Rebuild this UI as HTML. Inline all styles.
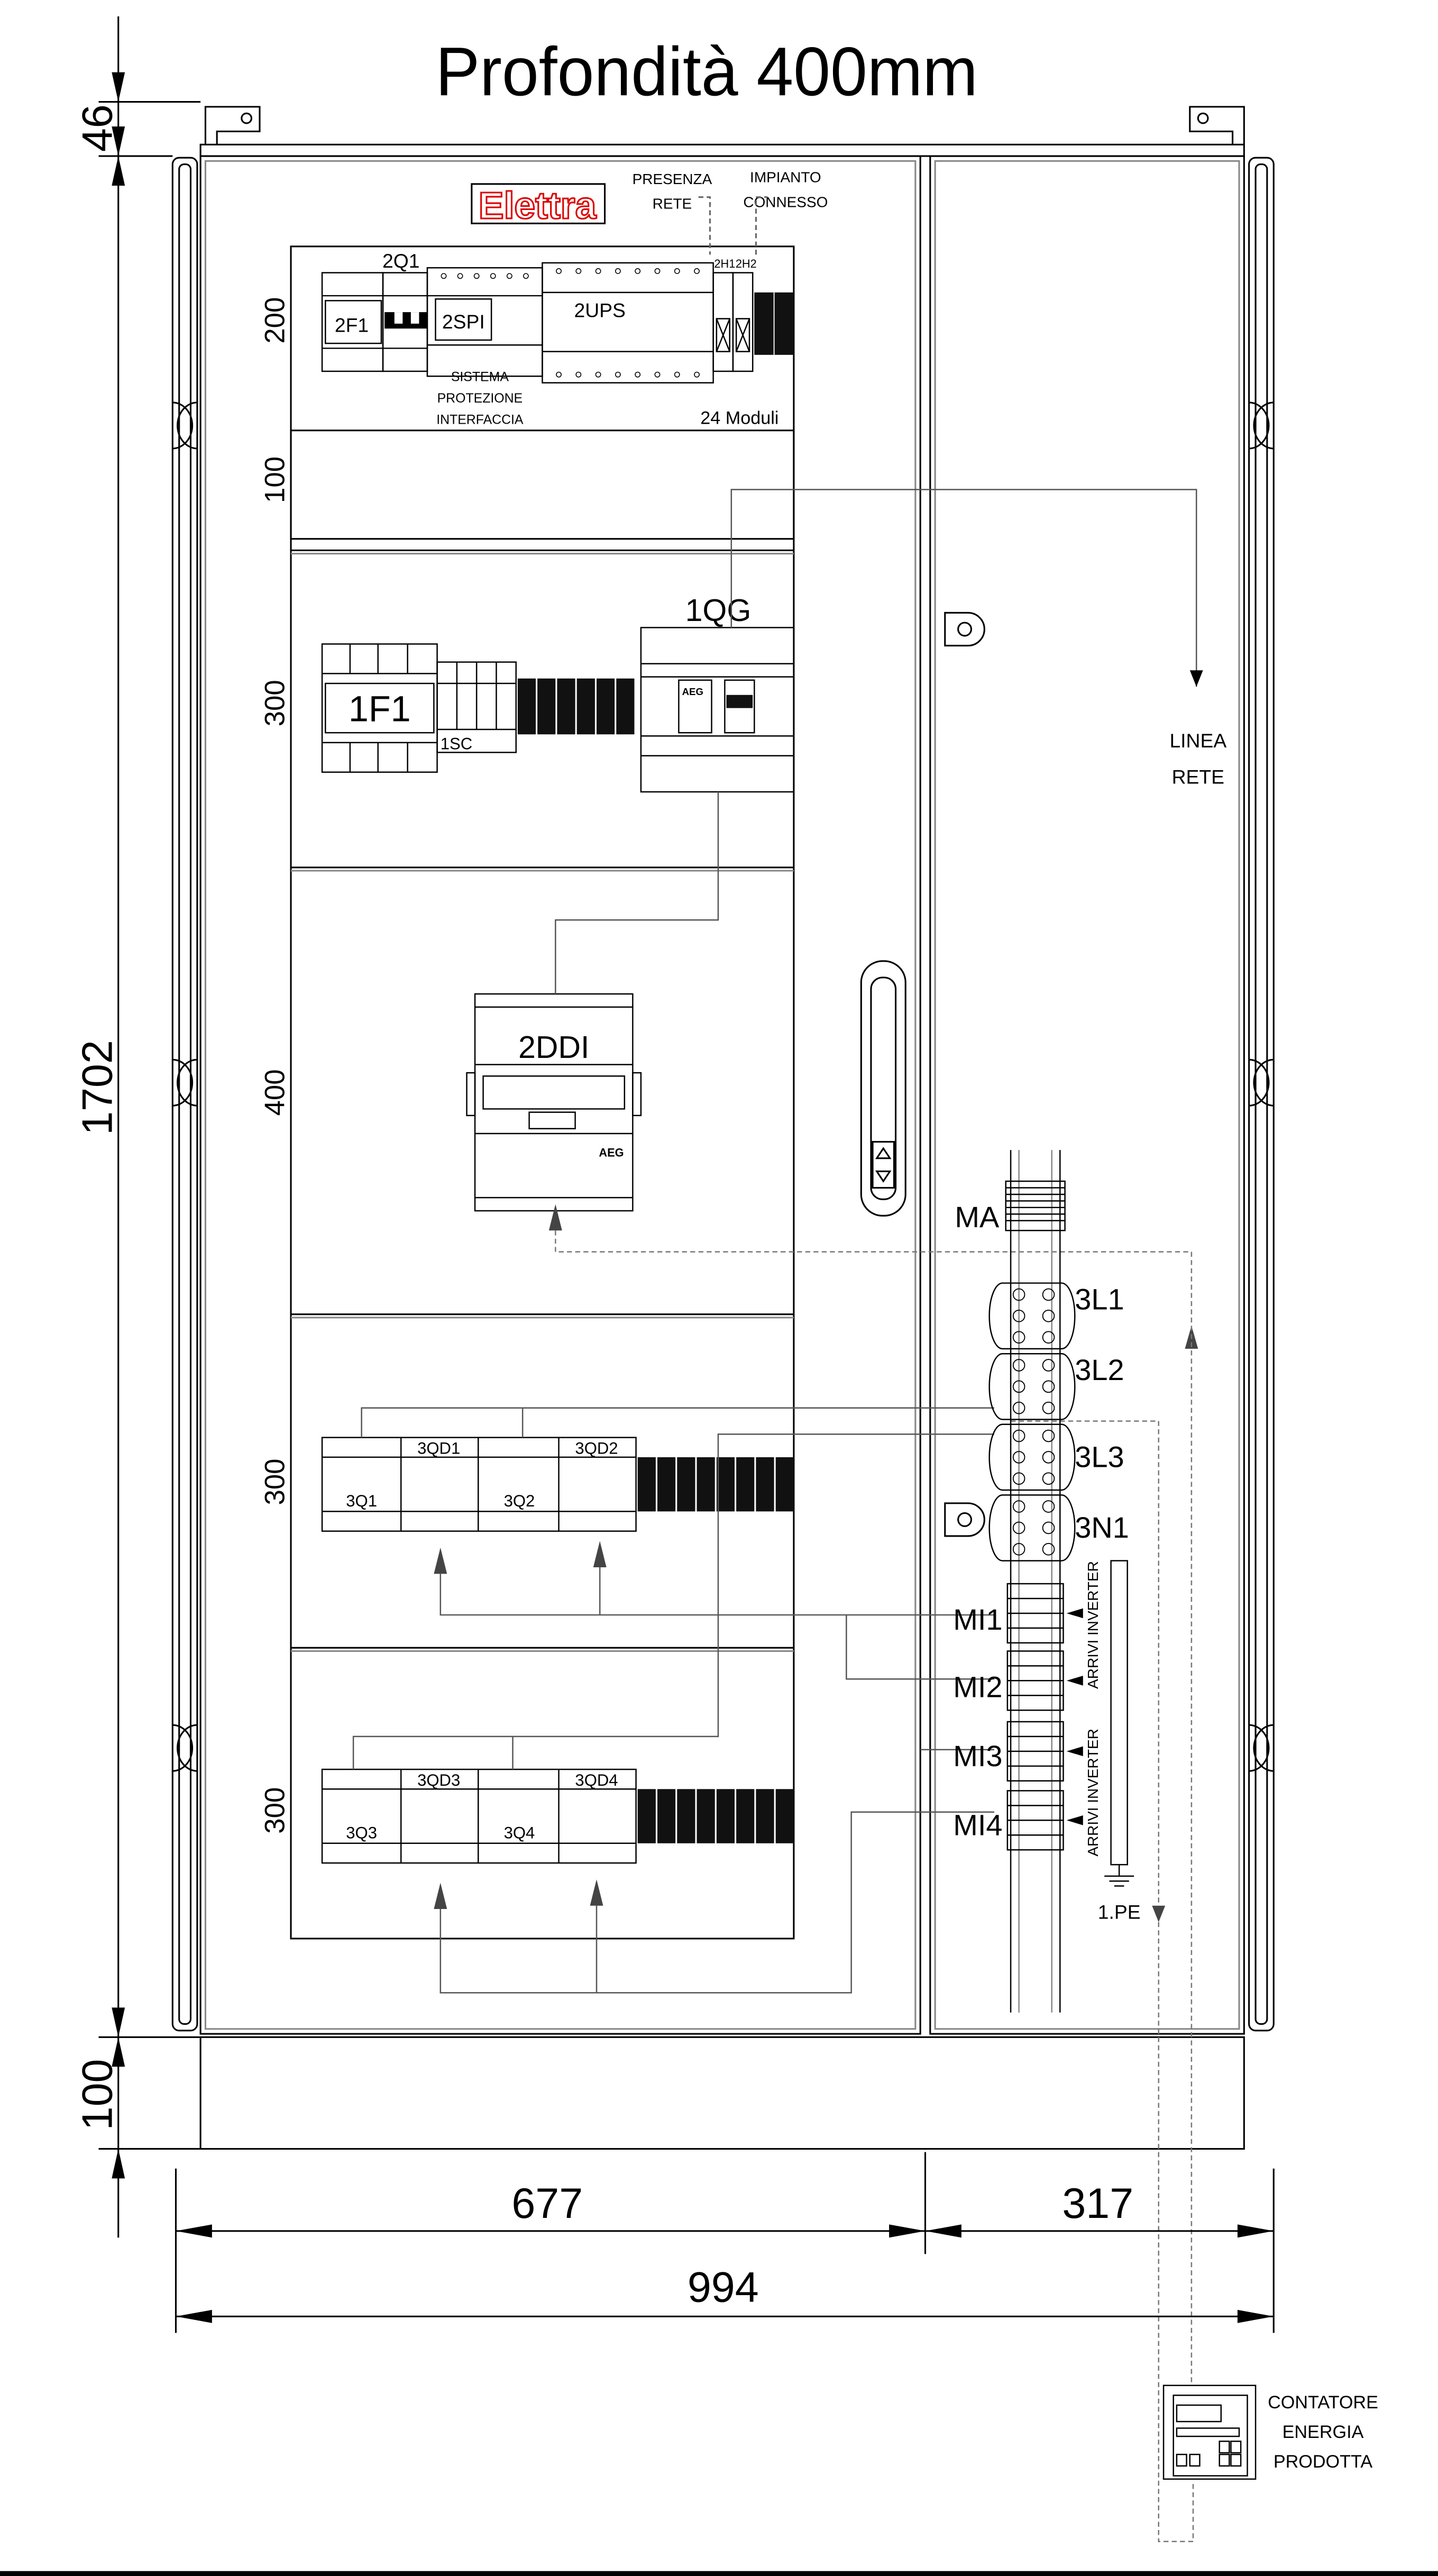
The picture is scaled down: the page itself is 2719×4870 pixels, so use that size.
<!DOCTYPE html>
<html><head><meta charset="utf-8"><style>
html,body{margin:0;padding:0;background:#fff}
svg{display:block}
text{font-family:"Liberation Sans",sans-serif;fill:#000}
</style></head><body>
<svg width="2719" height="4870" viewBox="0 0 875 1568" preserveAspectRatio="none" xmlns="http://www.w3.org/2000/svg">
<rect width="875" height="1568" fill="#fff"/>
<!-- title -->
<text x="265" y="58" font-size="42" textLength="330" lengthAdjust="spacingAndGlyphs">Profondità 400mm</text>

<!-- left dimension -->
<g stroke="#000" stroke-width="1" fill="none">
<line x1="72" y1="10" x2="72" y2="1362"/>
<line x1="60" y1="62" x2="122" y2="62"/>
<line x1="60" y1="95" x2="105" y2="95"/>
<line x1="60" y1="1240" x2="122" y2="1240"/>
<line x1="60" y1="1308" x2="122" y2="1308"/>
</g>
<path d="M72,62 l-4,-18 h8z M72,95 l-4,18 h8z M72,1240 l-4,-18 h8z M72,1240 l-4,18 h8z M72,1308 l-4,18 h8z M72,95 l-4,-18 h8z" fill="#000"/>
<text transform="translate(68,78) rotate(-90)" font-size="26" text-anchor="middle">46</text>
<text transform="translate(68,662) rotate(-90)" font-size="26" text-anchor="middle">1702</text>
<text transform="translate(68,1275) rotate(-90)" font-size="26" text-anchor="middle">100</text>

<!-- cabinet -->
<g stroke="#000" stroke-width="1" fill="none">
<rect x="122" y="88" width="635" height="7"/>
<rect x="105" y="96" width="15" height="1140" rx="4"/>
<rect x="109" y="100" width="7" height="1132" rx="3"/>
<rect x="760" y="96" width="15" height="1140" rx="4"/>
<rect x="764" y="100" width="7" height="1132" rx="3"/>
<rect x="122" y="95" width="438" height="1143"/>
<rect x="125" y="98" width="432" height="1137" stroke="#888"/>
<rect x="566" y="95" width="191" height="1143"/>
<rect x="569" y="98" width="185" height="1137" stroke="#888"/>
<rect x="122" y="1240" width="635" height="68"/>
<path d="M125,88 V65 H158 V80 H132 V88"/>
<circle cx="150" cy="72" r="3"/>
<path d="M757,88 V65 H724 V80 H750 V88"/>
<circle cx="732" cy="72" r="3"/>
<path d="M120,245 a12,14 0 0 0 0,28"/><path d="M105,245 a12,14 0 0 1 0,28"/>
<path d="M120,645 a12,14 0 0 0 0,28"/><path d="M105,645 a12,14 0 0 1 0,28"/>
<path d="M120,1050 a12,14 0 0 0 0,28"/><path d="M105,1050 a12,14 0 0 1 0,28"/>
<path d="M760,245 a12,14 0 0 1 0,28"/><path d="M775,245 a12,14 0 0 0 0,28"/>
<path d="M760,645 a12,14 0 0 1 0,28"/><path d="M775,645 a12,14 0 0 0 0,28"/>
<path d="M760,1050 a12,14 0 0 1 0,28"/><path d="M775,1050 a12,14 0 0 0 0,28"/>
<rect x="177" y="150" width="306" height="1030"/>
<rect x="177" y="262" width="306" height="66"/>
<line x1="177" y1="335" x2="483" y2="335"/><line x1="177" y1="337" x2="483" y2="337" stroke="#888"/>
<line x1="177" y1="528" x2="483" y2="528"/><line x1="177" y1="530" x2="483" y2="530" stroke="#888"/>
<line x1="177" y1="800" x2="483" y2="800"/><line x1="177" y1="802" x2="483" y2="802" stroke="#888"/>
<line x1="177" y1="1003" x2="483" y2="1003"/><line x1="177" y1="1005" x2="483" y2="1005" stroke="#888"/>
<rect x="524" y="585" width="27" height="155" rx="13"/>
<rect x="530" y="595" width="15" height="135" rx="7"/>
<rect x="531" y="695" width="13" height="28"/>
<path d="M537.5,699 l-4,6 h8z M537.5,719 l-4,-6 h8z"/>
<path d="M575,373 h14 a10,10 0 0 1 0,20 h-14z"/><circle cx="587" cy="383" r="4"/>
<path d="M575,915 h14 a10,10 0 0 1 0,20 h-14z"/><circle cx="587" cy="925" r="4"/>
</g>

<g font-size="17">
<text transform="translate(173,195) rotate(-90)" text-anchor="middle">200</text>
<text transform="translate(173,292) rotate(-90)" text-anchor="middle">100</text>
<text transform="translate(173,428) rotate(-90)" text-anchor="middle">300</text>
<text transform="translate(173,665) rotate(-90)" text-anchor="middle">400</text>
<text transform="translate(173,902) rotate(-90)" text-anchor="middle">300</text>
<text transform="translate(173,1102) rotate(-90)" text-anchor="middle">300</text>
</g>

<rect x="287" y="112" width="81" height="24" fill="none" stroke="#000"/>
<text x="327" y="133" font-size="23" font-weight="bold" text-anchor="middle" style="fill:#fff;stroke:#d00;stroke-width:1">Elettra</text>
<text x="409" y="112" font-size="9" text-anchor="middle">PRESENZA</text>
<text x="409" y="127" font-size="9" text-anchor="middle">RETE</text>
<text x="478" y="111" font-size="9" text-anchor="middle">IMPIANTO</text>
<text x="478" y="126" font-size="9" text-anchor="middle">CONNESSO</text>
<path d="M425,120 h7 V155 M460,155 V120 h7" fill="none" stroke="#666" stroke-dasharray="3,2"/>

<g stroke="#000" stroke-width="0.8" fill="none">
<rect x="196" y="166" width="37" height="60"/>
<line x1="196" y1="180" x2="233" y2="180"/><line x1="196" y1="212" x2="233" y2="212"/>
<rect x="198" y="183" width="34" height="26"/>
<rect x="233" y="166" width="27" height="60"/>
<line x1="233" y1="180" x2="260" y2="180"/><line x1="233" y1="212" x2="260" y2="212"/>
<rect x="260" y="163" width="70" height="66"/>
<line x1="260" y1="180" x2="330" y2="180"/><line x1="260" y1="210" x2="330" y2="210"/>
<rect x="265" y="182" width="34" height="25"/>
<rect x="330" y="160" width="104" height="73"/>
<line x1="330" y1="178" x2="434" y2="178"/><line x1="330" y1="214" x2="434" y2="214"/>
<rect x="434" y="166" width="12" height="60"/><rect x="446" y="166" width="12" height="60"/>
<path d="M436,194 h8 v20 h-8z M436,194 l8,20 M444,194 l-8,20 M448,194 h8 v20 h-8z M448,194 l8,20 M456,194 l-8,20"/>
</g>
<rect x="234" y="190" width="26" height="10" fill="#000"/>
<rect x="240" y="190" width="5" height="7" fill="#fff"/><rect x="250" y="190" width="5" height="7" fill="#fff"/>
<rect x="459" y="178" width="24" height="38" fill="#111"/>
<line x1="471" y1="178" x2="471" y2="216" stroke="#fff" stroke-width="0.6"/>
<g font-size="12">
<text x="214" y="202" text-anchor="middle">2F1</text>
<text x="282" y="200" text-anchor="middle">2SPI</text>
<text x="365" y="193" text-anchor="middle">2UPS</text>
<text x="244" y="163" text-anchor="middle">2Q1</text>
</g>
<text x="441" y="163" font-size="7" text-anchor="middle">2H1</text>
<text x="454" y="163" font-size="7" text-anchor="middle">2H2</text>
<text x="292" y="232" font-size="8" text-anchor="middle">SISTEMA</text>
<text x="292" y="245" font-size="8" text-anchor="middle">PROTEZIONE</text>
<text x="292" y="258" font-size="8" text-anchor="middle">INTERFACCIA</text>
<text x="450" y="258" font-size="11" text-anchor="middle">24 Moduli</text>
<g fill="none" stroke="#000" stroke-width="0.5">
<circle cx="270" cy="168" r="1.5"/><circle cx="280" cy="168" r="1.5"/><circle cx="290" cy="168" r="1.5"/><circle cx="300" cy="168" r="1.5"/><circle cx="310" cy="168" r="1.5"/><circle cx="320" cy="168" r="1.5"/>
<circle cx="340" cy="165" r="1.5"/><circle cx="352" cy="165" r="1.5"/><circle cx="364" cy="165" r="1.5"/><circle cx="376" cy="165" r="1.5"/><circle cx="388" cy="165" r="1.5"/><circle cx="400" cy="165" r="1.5"/><circle cx="412" cy="165" r="1.5"/><circle cx="424" cy="165" r="1.5"/>
<circle cx="340" cy="228" r="1.5"/><circle cx="352" cy="228" r="1.5"/><circle cx="364" cy="228" r="1.5"/><circle cx="376" cy="228" r="1.5"/><circle cx="388" cy="228" r="1.5"/><circle cx="400" cy="228" r="1.5"/><circle cx="412" cy="228" r="1.5"/><circle cx="424" cy="228" r="1.5"/>
</g>

<g stroke="#000" stroke-width="0.8" fill="none">
<rect x="196" y="392" width="70" height="78"/>
<line x1="196" y1="410" x2="266" y2="410"/><line x1="196" y1="452" x2="266" y2="452"/>
<rect x="198" y="416" width="66" height="30"/>
<line x1="213" y1="392" x2="213" y2="410"/><line x1="230" y1="392" x2="230" y2="410"/><line x1="248" y1="392" x2="248" y2="410"/>
<line x1="213" y1="452" x2="213" y2="470"/><line x1="230" y1="452" x2="230" y2="470"/><line x1="248" y1="452" x2="248" y2="470"/>
<rect x="266" y="403" width="48" height="55"/>
<line x1="266" y1="416" x2="314" y2="416"/><line x1="266" y1="444" x2="314" y2="444"/>
<line x1="278" y1="403" x2="278" y2="444"/><line x1="290" y1="403" x2="290" y2="444"/><line x1="302" y1="403" x2="302" y2="444"/>
<rect x="390" y="382" width="93" height="100"/>
<line x1="390" y1="404" x2="483" y2="404"/><line x1="390" y1="412" x2="483" y2="412"/><line x1="390" y1="448" x2="483" y2="448"/><line x1="390" y1="460" x2="483" y2="460"/>
<rect x="413" y="414" width="20" height="32"/>
<rect x="441" y="414" width="18" height="32"/>
</g>
<g fill="#111">
<rect x="315" y="413" width="11" height="34"/><rect x="327" y="413" width="11" height="34"/><rect x="339" y="413" width="11" height="34"/><rect x="351" y="413" width="11" height="34"/><rect x="363" y="413" width="11" height="34"/><rect x="375" y="413" width="11" height="34"/>
<rect x="442" y="423" width="16" height="8"/>
</g>
<text x="231" y="439" font-size="22" text-anchor="middle">1F1</text>
<text x="268" y="456" font-size="10">1SC</text>
<text x="437" y="378" font-size="19" text-anchor="middle">1QG</text>
<text x="415" y="423" font-size="6" font-weight="bold">AEG</text>

<g stroke="#000" stroke-width="0.8" fill="none">
<rect x="289" y="605" width="96" height="132"/>
<line x1="289" y1="613" x2="385" y2="613"/><line x1="289" y1="648" x2="385" y2="648"/><line x1="289" y1="690" x2="385" y2="690"/><line x1="289" y1="729" x2="385" y2="729"/>
<rect x="294" y="655" width="86" height="20"/>
<rect x="322" y="677" width="28" height="10"/>
<rect x="284" y="653" width="5" height="26"/><rect x="385" y="653" width="5" height="26"/>
</g>
<text x="337" y="644" font-size="19" text-anchor="middle">2DDI</text>
<text x="372" y="704" font-size="7" font-weight="bold" text-anchor="middle">AEG</text>

<g stroke="#000" stroke-width="0.8" fill="none">
<rect x="196" y="875" width="191" height="57"/>
<line x1="196" y1="887" x2="387" y2="887"/><line x1="196" y1="920" x2="387" y2="920"/>
<line x1="244" y1="875" x2="244" y2="932"/><line x1="291" y1="875" x2="291" y2="932"/><line x1="340" y1="875" x2="340" y2="932"/>
<rect x="196" y="1077" width="191" height="57"/>
<line x1="196" y1="1089" x2="387" y2="1089"/><line x1="196" y1="1122" x2="387" y2="1122"/>
<line x1="244" y1="1077" x2="244" y2="1134"/><line x1="291" y1="1077" x2="291" y2="1134"/><line x1="340" y1="1077" x2="340" y2="1134"/>
</g>
<g fill="#111">
<rect x="388" y="887" width="11" height="33"/><rect x="400" y="887" width="11" height="33"/><rect x="412" y="887" width="11" height="33"/><rect x="424" y="887" width="11" height="33"/><rect x="436" y="887" width="11" height="33"/><rect x="448" y="887" width="11" height="33"/><rect x="460" y="887" width="11" height="33"/><rect x="472" y="887" width="11" height="33"/>
<rect x="388" y="1089" width="11" height="33"/><rect x="400" y="1089" width="11" height="33"/><rect x="412" y="1089" width="11" height="33"/><rect x="424" y="1089" width="11" height="33"/><rect x="436" y="1089" width="11" height="33"/><rect x="448" y="1089" width="11" height="33"/><rect x="460" y="1089" width="11" height="33"/><rect x="472" y="1089" width="11" height="33"/>
</g>
<g font-size="10" text-anchor="middle">
<text x="220" y="917">3Q1</text><text x="267" y="885">3QD1</text><text x="316" y="917">3Q2</text><text x="363" y="885">3QD2</text>
<text x="220" y="1119">3Q3</text><text x="267" y="1087">3QD3</text><text x="316" y="1119">3Q4</text><text x="363" y="1087">3QD4</text>
</g>

<g fill="#444">
<path d="M338,733 l-4,16 h8z"/>
<path d="M268,942 l-4,16 h8z"/><path d="M365,938 l-4,16 h8z"/>
<path d="M268,1146 l-4,16 h8z"/><path d="M363,1144 l-4,16 h8z"/>
<path d="M725,807 l-4,14 h8z"/>
</g>

<g stroke="#555" stroke-width="0.8" fill="none">
<path d="M445,382 V298 H728 V418"/>
<path d="M437,482 V560 H338 V605"/>
<path d="M220,875 V857 H605"/><path d="M318,857 V875"/>
<path d="M605,873 H437 V1057 H215 V1077"/><path d="M312,1057 V1077"/>
<path d="M268,958 V983 H605"/><path d="M365,954 V983"/>
<path d="M515,983 V1022 H605"/>
<path d="M268,1162 V1213 H518 V1103 H605"/><path d="M363,1160 V1213"/>
<path d="M560,1065 H605"/>
</g>
<path d="M728,418 l-4,-10 h8z" fill="#000"/>
<text x="729" y="455" font-size="12" text-anchor="middle">LINEA</text>
<text x="729" y="477" font-size="12" text-anchor="middle">RETE</text>
<g stroke="#777" stroke-width="0.8" fill="none" stroke-dasharray="3,2">
<path d="M338,749 V762 H725 V1450"/>
<path d="M615,865 H705 V1547 H726 V1510"/>
</g>
<path d="M705,1170 l-4,-10 h8z" fill="#444"/>

<g stroke="#000" stroke-width="0.8" fill="none">
<line x1="615" y1="700" x2="615" y2="1225"/><line x1="645" y1="700" x2="645" y2="1225"/>
<line x1="620" y1="700" x2="620" y2="1225" stroke="#888"/><line x1="640" y1="700" x2="640" y2="1225" stroke="#888"/>
<rect x="612" y="719" width="36" height="30"/>
<line x1="612" y1="723" x2="648" y2="723"/><line x1="612" y1="727" x2="648" y2="727"/><line x1="612" y1="731" x2="648" y2="731"/><line x1="612" y1="735" x2="648" y2="735"/><line x1="612" y1="739" x2="648" y2="739"/><line x1="612" y1="743" x2="648" y2="743"/>
<path d="M610,781 h36 a8,20 0 0 1 0,40 h-36 a8,20 0 0 1 0,-40z"/>
<path d="M610,824 h36 a8,20 0 0 1 0,40 h-36 a8,20 0 0 1 0,-40z"/>
<path d="M610,867 h36 a8,20 0 0 1 0,40 h-36 a8,20 0 0 1 0,-40z"/>
<path d="M610,910 h36 a8,20 0 0 1 0,40 h-36 a8,20 0 0 1 0,-40z"/>
<rect x="613" y="964" width="34" height="36"/><line x1="613" y1="973" x2="647" y2="973"/><line x1="613" y1="982" x2="647" y2="982"/><line x1="613" y1="991" x2="647" y2="991"/>
<rect x="613" y="1005" width="34" height="36"/><line x1="613" y1="1014" x2="647" y2="1014"/><line x1="613" y1="1023" x2="647" y2="1023"/><line x1="613" y1="1032" x2="647" y2="1032"/>
<rect x="613" y="1048" width="34" height="36"/><line x1="613" y1="1057" x2="647" y2="1057"/><line x1="613" y1="1066" x2="647" y2="1066"/><line x1="613" y1="1075" x2="647" y2="1075"/>
<rect x="613" y="1090" width="34" height="36"/><line x1="613" y1="1099" x2="647" y2="1099"/><line x1="613" y1="1108" x2="647" y2="1108"/><line x1="613" y1="1117" x2="647" y2="1117"/>
<rect x="676" y="950" width="10" height="185"/>
<line x1="681" y1="1135" x2="681" y2="1142"/><line x1="672" y1="1142" x2="690" y2="1142"/><line x1="675" y1="1145" x2="687" y2="1145"/><line x1="678" y1="1148" x2="684" y2="1148"/>
</g>
<g fill="none" stroke="#000" stroke-width="0.6">
<circle cx="620" cy="788" r="3.5"/><circle cx="638" cy="788" r="3.5"/><circle cx="620" cy="801" r="3.5"/><circle cx="638" cy="801" r="3.5"/><circle cx="620" cy="814" r="3.5"/><circle cx="638" cy="814" r="3.5"/>
<circle cx="620" cy="831" r="3.5"/><circle cx="638" cy="831" r="3.5"/><circle cx="620" cy="844" r="3.5"/><circle cx="638" cy="844" r="3.5"/><circle cx="620" cy="857" r="3.5"/><circle cx="638" cy="857" r="3.5"/>
<circle cx="620" cy="874" r="3.5"/><circle cx="638" cy="874" r="3.5"/><circle cx="620" cy="887" r="3.5"/><circle cx="638" cy="887" r="3.5"/><circle cx="620" cy="900" r="3.5"/><circle cx="638" cy="900" r="3.5"/>
<circle cx="620" cy="917" r="3.5"/><circle cx="638" cy="917" r="3.5"/><circle cx="620" cy="930" r="3.5"/><circle cx="638" cy="930" r="3.5"/><circle cx="620" cy="943" r="3.5"/><circle cx="638" cy="943" r="3.5"/>
</g>
<g fill="#000">
<path d="M649,982 l10,-3 v6z"/><path d="M649,1023 l10,-3 v6z"/><path d="M649,1066 l10,-3 v6z"/><path d="M649,1108 l10,-3 v6z"/>
</g>
<text transform="translate(668,1028) rotate(-90)" font-size="9">ARRIVI INVERTER</text>
<text transform="translate(668,1130) rotate(-90)" font-size="9">ARRIVI INVERTER</text>
<g font-size="18">
<text x="608" y="747" text-anchor="end">MA</text>
<text x="654" y="797">3L1</text><text x="654" y="840">3L2</text><text x="654" y="893">3L3</text><text x="654" y="936">3N1</text>
<text x="610" y="992" text-anchor="end">MI1</text><text x="610" y="1033" text-anchor="end">MI2</text><text x="610" y="1075" text-anchor="end">MI3</text><text x="610" y="1117" text-anchor="end">MI4</text>
</g>
<text x="681" y="1168" font-size="12" text-anchor="middle">1.PE</text>

<g stroke="#000" stroke-width="1" fill="none">
<line x1="107" y1="1320" x2="107" y2="1420"/>
<line x1="563" y1="1310" x2="563" y2="1372"/>
<line x1="775" y1="1320" x2="775" y2="1420"/>
<line x1="107" y1="1358" x2="775" y2="1358"/>
<line x1="107" y1="1410" x2="775" y2="1410"/>
</g>
<path d="M107,1358 l22,-4 v8z M563,1358 l-22,-4 v8z M563,1358 l22,-4 v8z M775,1358 l-22,-4 v8z M107,1410 l22,-4 v8z M775,1410 l-22,-4 v8z" fill="#000"/>
<text x="333" y="1350" font-size="26" text-anchor="middle">677</text>
<text x="668" y="1350" font-size="26" text-anchor="middle">317</text>
<text x="440" y="1401" font-size="26" text-anchor="middle">994</text>

<g stroke="#000" stroke-width="0.8" fill="none">
<rect x="708" y="1452" width="56" height="57"/>
<rect x="714" y="1458" width="45" height="49"/>
<rect x="716" y="1464" width="27" height="10"/>
<rect x="716" y="1478" width="38" height="5"/>
<rect x="716" y="1494" width="6" height="7"/><rect x="724" y="1494" width="6" height="7"/>
<rect x="742" y="1486" width="6" height="7"/><rect x="749" y="1486" width="6" height="7"/>
<rect x="742" y="1494" width="6" height="7"/><rect x="749" y="1494" width="6" height="7"/>
</g>
<text x="805" y="1466" font-size="11" text-anchor="middle">CONTATORE</text>
<text x="805" y="1484" font-size="11" text-anchor="middle">ENERGIA</text>
<text x="805" y="1502" font-size="11" text-anchor="middle">PRODOTTA</text>
<rect x="0" y="1565" width="875" height="3" fill="#000"/>
</svg>
</body></html>
